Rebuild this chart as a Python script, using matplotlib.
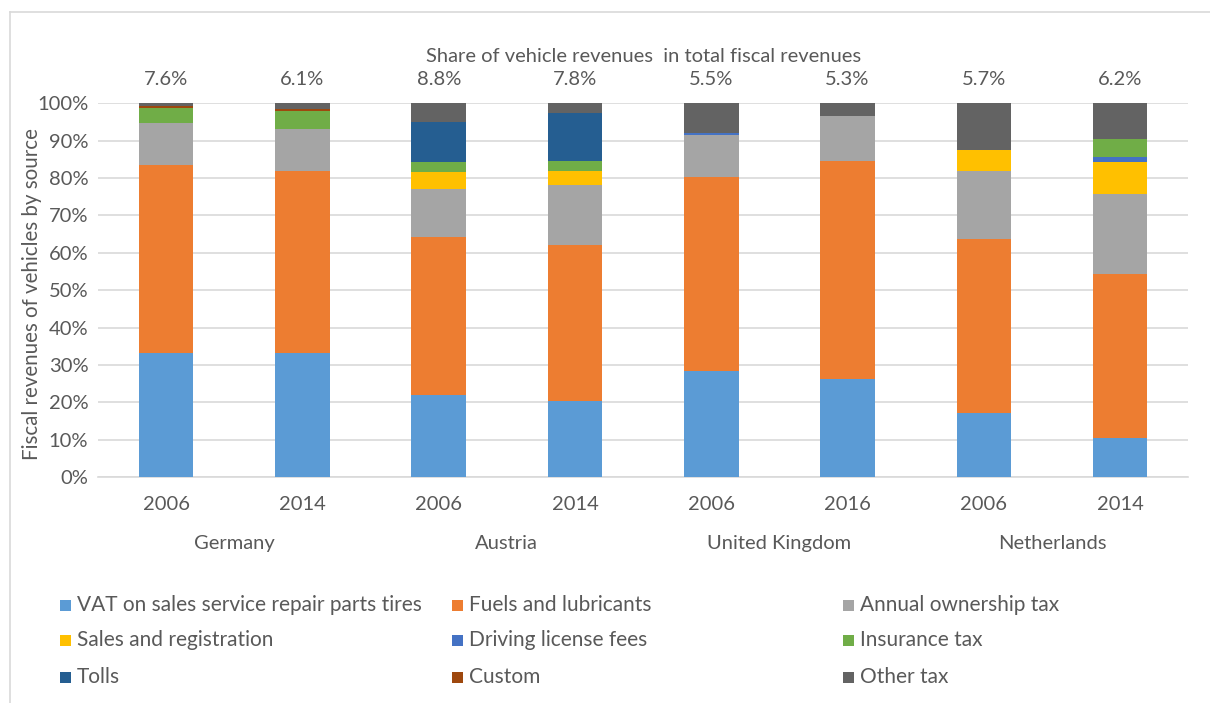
import matplotlib
matplotlib.use('Agg')
import matplotlib.pyplot as plt
from matplotlib.patches import Rectangle
from matplotlib.lines import Line2D
from matplotlib.ticker import PercentFormatter
import numpy as np

# ── Data ────────────────────────────────────────────────────────────────
countries = ['Germany', 'Austria', 'United Kingdom', 'Netherlands']
years = ['2006', '2014', '2006', '2014', '2006', '2016', '2006', '2014']
vehicle_share = [7.6, 6.1, 8.8, 7.8, 5.5, 5.3, 5.7, 6.2]

sources = ['VAT on sales service repair parts tires', 'Fuels and lubricants',
           'Annual ownership tax', 'Sales and registration',
           'Driving license fees', 'Insurance tax', 'Tolls', 'Custom',
           'Other tax']
vat       = [33.1, 33.1, 22.0, 20.4, 28.4, 26.2, 17.1, 10.4]
fuels     = [50.3, 48.8, 42.3, 41.6, 51.9, 58.4, 46.6, 43.9]
annual    = [11.4, 11.3, 12.8, 16.2, 11.3, 12.1, 18.2, 21.5]
sales     = [0.0, 0.0, 4.6, 3.7, 0.0, 0.0, 5.5, 8.4]
license_  = [0.0, 0.0, 0.0, 0.0, 0.5, 0.0, 0.0, 1.4]
insurance = [4.0, 4.8, 2.6, 2.8, 0.0, 0.0, 0.0, 4.9]
tolls     = [0.0, 0.0, 10.8, 12.8, 0.0, 0.0, 0.0, 0.0]
custom    = [0.6, 0.5, 0.0, 0.0, 0.0, 0.0, 0.0, 0.0]
other     = [0.6, 1.5, 4.9, 2.5, 7.9, 3.3, 12.6, 9.5]

series = [vat, fuels, annual, sales, license_, insurance, tolls, custom, other]
colors = ['#5B9BD5', '#ED7D31', '#A5A5A5', '#FFC000', '#4472C4',
          '#70AD47', '#255E91', '#9E480E', '#636363']

TXT = '#595959'
FS = 14.5
plt.rcParams['font.family'] = ['Lato', 'DejaVu Sans']

fig = plt.figure(figsize=(12.1, 7.03), dpi=100)
ax = fig.add_axes([0.081, 0.3215, 0.901, 0.5315])

x = np.arange(len(years))
bottom = np.zeros(len(years))
for vals, col, name in zip(series, colors, sources):
    ax.bar(x, vals, 0.4, bottom=bottom, color=col, label=name, zorder=3)
    bottom += np.array(vals)

ax.set_xlim(-0.5, len(years) - 0.5)
ax.set_ylim(0, 100)
ax.set_yticks(range(0, 101, 10))
ax.yaxis.set_major_formatter(PercentFormatter(decimals=0))
ax.grid(axis='y', color='#D9D9D9', linewidth=1.2, zorder=0)
for s in ['top', 'right', 'left']:
    ax.spines[s].set_visible(False)
ax.spines['bottom'].set_color('#D9D9D9')
ax.spines['bottom'].set_linewidth(1.2)
ax.tick_params(axis='both', length=0, colors=TXT, labelsize=FS)
ax.tick_params(axis='y', pad=7)
ax.tick_params(axis='x', pad=14)
ax.set_xticks(x)
ax.set_xticklabels(years)
ax.set_ylabel('Fiscal revenues of vehicles by source', color=TXT,
              fontsize=14.8, va='center')
ax.yaxis.set_label_coords(-0.0605, 0.49)

# country group labels and total-share labels
tr = ax.get_xaxis_transform()
for i, c in enumerate(countries):
    ax.text(2 * i + 0.5, -0.177, c, transform=tr, ha='center', va='center',
            color=TXT, fontsize=FS)
for i, v in enumerate(vehicle_share):
    ax.text(i, 1.063, f'{v:.1f}%', transform=tr, ha='center', va='center',
            color=TXT, fontsize=FS)
ax.text(0.5, 1.125, 'Share of vehicle revenues  in total fiscal revenues',
        transform=ax.transAxes, ha='center', va='center', color=TXT,
        fontsize=FS)

# ── Legend (3 columns, Excel style) ─────────────────────────────────────
col_x = [60, 452, 843]
row_y = [605, 640, 677]
W, H = 1210, 703
for k, (name, col) in enumerate(zip(sources, colors)):
    px = col_x[k % 3]
    py = row_y[k // 3]
    fig.patches.append(Rectangle((px / W, 1 - (py + 5.5) / H),
                                 11 / W, 11 / H, transform=fig.transFigure,
                                 facecolor=col, edgecolor='none'))
    fig.text((px + 17) / W, 1 - py / H, name, ha='left', va='center',
             color=TXT, fontsize=15)

# chart frame
fig.add_artist(Line2D([10 / W, 10 / W], [0, 1 - 12 / H], color='#D9D9D9',
                      linewidth=1.2, transform=fig.transFigure))
fig.add_artist(Line2D([10 / W, 1], [1 - 12 / H, 1 - 12 / H], color='#D9D9D9',
                      linewidth=1.2, transform=fig.transFigure))

fig.savefig('out.png', dpi=100)
plt.close(fig)
